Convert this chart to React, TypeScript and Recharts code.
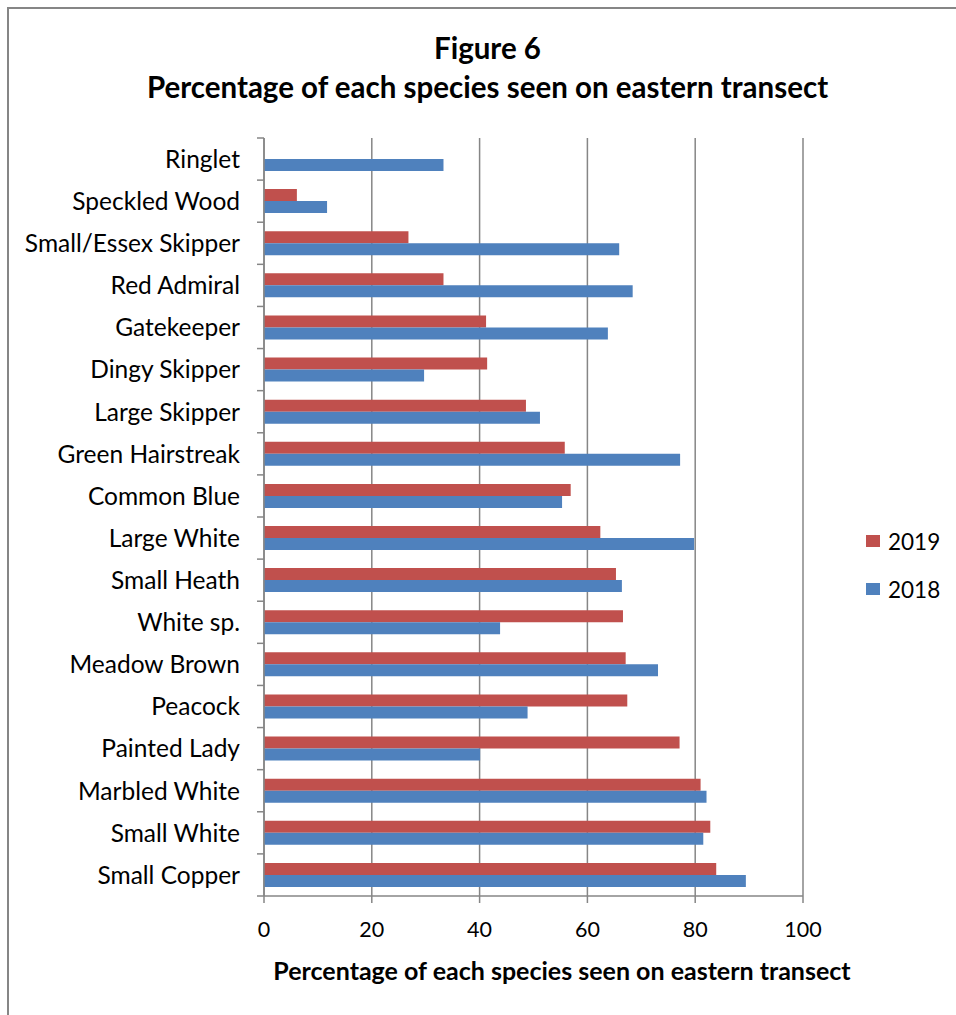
import React from 'react'
import { BarChart, Bar, XAxis, YAxis, CartesianGrid } from 'recharts'

// Species, top to bottom
const species = [
  'Ringlet',
  'Speckled Wood',
  'Small/Essex Skipper',
  'Red Admiral',
  'Gatekeeper',
  'Dingy Skipper',
  'Large Skipper',
  'Green Hairstreak',
  'Common Blue',
  'Large White',
  'Small Heath',
  'White sp.',
  'Meadow Brown',
  'Peacock',
  'Painted Lady',
  'Marbled White',
  'Small White',
  'Small Copper',
]

const pct2019 = [0, 6.1, 26.8, 33.3, 41.2, 41.4, 48.6, 55.8, 56.9, 62.4, 65.3, 66.6, 67.1, 67.4, 77.1, 81.0, 82.8, 83.9]
const pct2018 = [33.3, 11.7, 65.9, 68.4, 63.8, 29.7, 51.2, 77.2, 55.3, 79.8, 66.4, 43.8, 73.1, 48.9, 40.1, 82.1, 81.5, 89.4]

const xTicks = [0, 20, 40, 60, 80, 100]

const RED = '#C0504D'
const BLUE = '#4F81BD'
const GRID = '#868686'
const FONT = 'Lato, "Open Sans", sans-serif'

const W = 956
const H = 1015
const MARGIN = { top: 138, right: 153, bottom: 79, left: 0 }
const Y_AXIS_W = 264
const X_AXIS_H = 40
const PLOT_H = H - MARGIN.top - MARGIN.bottom - X_AXIS_H
const BAND = PLOT_H / species.length
const Y_TICK_SIZE = 8
const Y_TICK_MARGIN = 16

const data = species.map((name, i) => ({
  name,
  y2019: pct2019[i],
  y2018: pct2018[i],
}))

const legendItems = [
  { label: '2019', color: RED },
  { label: '2018', color: BLUE },
]

// Category label plus Excel-style tick marks on the band boundaries
const CategoryTick = ({ x, y, payload, index }: any) => {
  const axisX = x + Y_TICK_SIZE + Y_TICK_MARGIN
  const top = y - BAND / 2
  const bottom = y + BAND / 2
  return (
    <g>
      <line x1={axisX - 7} x2={axisX} y1={top} y2={top} stroke={GRID} strokeWidth={1.5} />
      {index === species.length - 1 && (
        <line x1={axisX - 7} x2={axisX} y1={bottom} y2={bottom} stroke={GRID} strokeWidth={1.5} />
      )}
      <text x={x} y={y} dy="0.36em" textAnchor="end" fill="#000" fontSize={24.5} fontFamily={FONT}>
        {payload.value}
      </text>
    </g>
  )
}

export default function App() {
  return (
    <div
      style={{
        position: 'absolute',
        left: 0,
        top: 0,
        width: W,
        height: H,
        overflow: 'hidden',
        background: '#fff',
        fontFamily: FONT,
        color: '#000',
      }}
    >
      {/* chart frame, top and left edges */}
      <div style={{ position: 'absolute', left: 7, top: 7, width: W, height: 2, background: GRID }} />
      <div style={{ position: 'absolute', left: 7, top: 7, width: 2, height: H, background: GRID }} />

      <div
        style={{
          position: 'absolute',
          top: 28,
          left: 0,
          width: 975,
          textAlign: 'center',
          fontWeight: 700,
          fontSize: 29.5,
          lineHeight: '39px',
        }}
      >
        <div>Figure 6</div>
        <div>Percentage of each species seen on eastern transect</div>
      </div>

      <BarChart
        width={W}
        height={H}
        data={data}
        layout="vertical"
        margin={MARGIN}
        barCategoryGap={9}
        barGap={0}
        style={{ position: 'absolute', left: 0, top: 0 }}
      >
        <CartesianGrid horizontal={false} stroke={GRID} strokeWidth={1.5} />
        <XAxis
          type="number"
          domain={[0, 100]}
          ticks={xTicks}
          height={X_AXIS_H}
          stroke={GRID}
          strokeWidth={1.5}
          tickSize={7}
          tickMargin={19}
          tick={{ fill: '#000', fontSize: 21.5, fontFamily: FONT }}
        />
        <YAxis
          type="category"
          dataKey="name"
          width={Y_AXIS_W}
          stroke={GRID}
          strokeWidth={1.5}
          tickLine={false}
          tickSize={Y_TICK_SIZE}
          tickMargin={Y_TICK_MARGIN}
          interval={0}
          tick={<CategoryTick />}
        />
        <Bar dataKey="y2019" name="2019" fill={RED} isAnimationActive={false} />
        <Bar dataKey="y2018" name="2018" fill={BLUE} isAnimationActive={false} />
      </BarChart>

      {/* legend */}
      <div style={{ position: 'absolute', left: 866, top: 527, fontSize: 22.5 }}>
        {legendItems.map((item, i) => (
          <div key={item.label} style={{ display: 'flex', alignItems: 'center', height: 28, marginTop: i ? 20 : 0 }}>
            <span style={{ width: 14, height: 12, background: item.color, marginRight: 8, display: 'inline-block' }} />
            <span>{item.label}</span>
          </div>
        ))}
      </div>

      <div
        style={{
          position: 'absolute',
          top: 955,
          left: 262,
          width: 600,
          textAlign: 'center',
          fontWeight: 700,
          fontSize: 25,
          lineHeight: '30px',
        }}
      >
        Percentage of each species seen on eastern transect
      </div>
    </div>
  )
}
